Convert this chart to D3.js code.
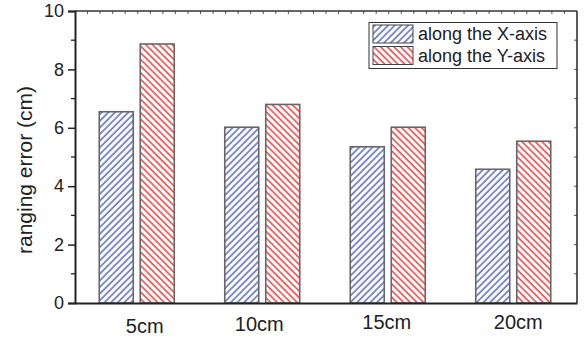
<!DOCTYPE html>
<html><head><meta charset="utf-8">
<script src="https://cdn.jsdelivr.net/npm/d3@7"></script>
<style>body{margin:0;background:#fff}svg{display:block;font-family:"Liberation Sans",Arial,sans-serif}</style>
</head><body><svg id="c" width="585" height="341"></svg>
<script>
const categories = ["5cm", "10cm", "15cm", "20cm"];
const seriesNames = ["along the X-axis", "along the Y-axis"];
const alongX = [6.55, 6.02, 5.35, 4.58];
const alongY = [8.87, 6.80, 6.02, 5.54];
const yTicks = [0, 2, 4, 6, 8, 10];

const svg = d3.select("#c");
const m = {l: 75, r: 8, t: 11, b: 38};
const W = 585, H = 341;
const x = d3.scaleBand().domain(categories).range([m.l, W - m.r]).paddingInner(0).paddingOuter(0);
const y = d3.scaleLinear().domain([0, 10]).range([H - m.b, m.t]);
const colors = ["#3f52c0", "#ee2020"];

const defs = svg.append("defs");
[["hx", 45, colors[0]], ["hy", -45, colors[1]]].forEach(([id, rot, col]) => {
  const p = defs.append("pattern").attr("id", id).attr("patternUnits", "userSpaceOnUse")
    .attr("width", 4.7).attr("height", 4.7).attr("patternTransform", `rotate(${rot})`);
  p.append("rect").attr("width", 4.7).attr("height", 4.7).attr("fill", "#fff");
  p.append("line").attr("x1", 1).attr("x2", 1).attr("y1", 0).attr("y2", 4.7)
    .attr("stroke", col).attr("stroke-width", 1.3);
});

const barW = 34, gap = 7;
const series = [alongX, alongY];
series.forEach((vals, si) => {
  svg.append("g").selectAll("rect").data(categories).join("rect")
    .attr("x", (c) => x(c) + x.bandwidth() / 2 - (barW + gap / 2) + si * (barW + gap) - 1)
    .attr("y", (c, i) => y(vals[i]))
    .attr("width", barW)
    .attr("height", (c, i) => y(0) - y(vals[i]))
    .attr("fill", si === 0 ? "url(#hx)" : "url(#hy)")
    .attr("stroke", "#666").attr("stroke-width", 1.6);
});

const axCol = "#222";
const topTicks = d3.range(m.l, W - m.r, 12.55);
svg.append("g").selectAll("line").data(topTicks.slice(1)).join("line")
  .attr("x1", d => d).attr("x2", d => d).attr("y1", m.t).attr("y2", m.t + 3)
  .attr("stroke", "#555").attr("stroke-width", 1);
svg.append("g").selectAll("line").data(d3.range(1, 10)).join("line")
  .attr("x1", W - m.r).attr("x2", W - m.r - 3).attr("y1", d => y(d)).attr("y2", d => y(d))
  .attr("stroke", "#555").attr("stroke-width", 1);
svg.append("line").attr("x1", m.l).attr("x2", W - m.r).attr("y1", m.t).attr("y2", m.t)
  .attr("stroke", "#333").attr("stroke-width", 1.3);
svg.append("line").attr("x1", W - m.r).attr("x2", W - m.r).attr("y1", m.t).attr("y2", y(0))
  .attr("stroke", "#333").attr("stroke-width", 1.6);

const yAx = svg.append("g").attr("transform", `translate(${m.l},0)`)
  .call(d3.axisLeft(y).tickValues(yTicks).tickSize(7).tickPadding(4).tickFormat(d3.format("d")));
yAx.select(".domain").attr("stroke", axCol).attr("stroke-width", 2);
yAx.selectAll(".tick line").attr("stroke", axCol).attr("stroke-width", 1.5);
yAx.selectAll("text").attr("font-size", 18).attr("fill", "#222").attr("font-family", "Liberation Sans, Arial, sans-serif");
svg.append("g").selectAll("line").data([1, 3, 5, 7, 9]).join("line")
  .attr("x1", m.l).attr("x2", m.l - 4).attr("y1", d => y(d)).attr("y2", d => y(d))
  .attr("stroke", axCol).attr("stroke-width", 1.3);

const xAx = svg.append("g").attr("transform", `translate(0,${y(0)})`)
  .call(d3.axisBottom(x).tickSize(0).tickPadding(12));
xAx.select(".domain").attr("stroke", axCol).attr("stroke-width", 2);
xAx.selectAll("text").attr("font-size", 20).attr("fill", "#222").attr("font-family", "Liberation Sans, Arial, sans-serif")
  .attr("dx", (d, i) => [7, -4, -2, 4][i])
  .attr("dy", (d, i) => ["0.9em", "0.8em", "0.7em", "0.7em"][i]);

svg.append("text").attr("transform", `translate(32,170) rotate(-90)`)
  .attr("text-anchor", "middle").attr("font-size", 21).attr("fill", "#222")
  .text("ranging error (cm)");

const lg = svg.append("g");
lg.append("rect").attr("x", 369).attr("y", 22.5).attr("width", 188).attr("height", 46)
  .attr("fill", "#fff").attr("stroke", "#333").attr("stroke-width", 1);
seriesNames.forEach((n, i) => {
  lg.append("rect").attr("x", 373).attr("y", 25 + i * 21.5).attr("width", 40).attr("height", 18)
    .attr("fill", i === 0 ? "url(#hx)" : "url(#hy)").attr("stroke", "#444").attr("stroke-width", 1);
  lg.append("text").attr("x", 418).attr("y", 40 + i * 22).attr("font-size", 18).attr("fill", "#222").text(n);
});
</script></body></html>
